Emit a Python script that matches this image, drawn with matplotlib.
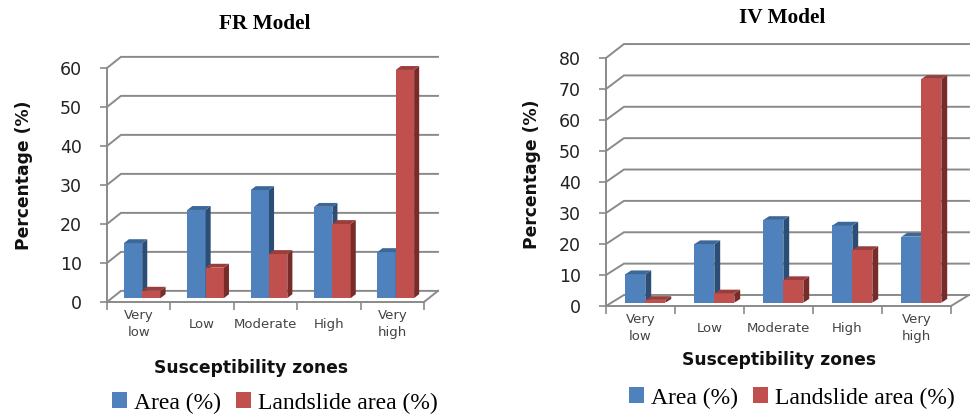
"""
Susceptibility zone charts for the FR and IV models, drawn as oblique 3D columns.
"""
import numpy as np
import matplotlib
matplotlib.use("Agg")
import matplotlib.pyplot as plt
from matplotlib.patches import Patch, Polygon

ZONES = ["Very\nlow", "Low", "Moderate", "High", "Very\nhigh"]
SERIES = ["Area (%)", "Landslide area (%)"]

FR_AREA = [14.1, 22.6, 27.7, 23.4, 11.8]
FR_LANDSLIDE = [1.9, 7.8, 11.3, 19.0, 58.5]
IV_AREA = [9.2, 18.9, 26.7, 24.9, 21.3]
IV_LANDSLIDE = [0.9, 3.0, 7.3, 17.0, 72.2]

FR_TICKS = [0, 10, 20, 30, 40, 50, 60]
IV_TICKS = [0, 10, 20, 30, 40, 50, 60, 70, 80]

W, H = 971, 418
GRID = "#8a8a8a"
BLUE = ("#4f81bd", "#2c4d75", "#3c6799")   # front, side, top
RED = ("#c0504d", "#772c2a", "#9a3e3b")


def fx(px):
    return px / W


def fy(py):
    return 1 - py / H


def draw_column(ax, x, value, width, base, cap, colors):
    # front face goes through ax.bar, the side and top faces are sheared from it
    ax.bar(x, value, width, bottom=base, color=colors[0], align="edge",
           linewidth=0, zorder=3, clip_on=False)
    top = base + value
    side = [(x + width, base), (x + width + cap[0], base + cap[1]),
            (x + width + cap[0], top + cap[1]), (x + width, top)]
    roof = [(x, top), (x + width, top),
            (x + width + cap[0], top + cap[1]), (x + cap[0], top + cap[1])]
    ax.add_patch(Polygon(side, color=colors[1], lw=0, zorder=3, clip_on=False))
    ax.add_patch(Polygon(roof, color=colors[2], lw=0, zorder=3, clip_on=False))


def draw_panel(box, yticks, area, landslide, wall, shift, base, cap, width):
    left, top, right, bottom = box
    ax = fig.add_axes([fx(left), fy(bottom), fx(right - left), fy(top) - fy(bottom)])
    ax.set_xlim(0, len(ZONES))
    ax.set_ylim(yticks[0], yticks[-1])

    # back wall gridlines and the connectors down to the value axis
    for v in yticks:
        back = v + wall[0] + (wall[1] - wall[0]) * v / yticks[-1]
        ax.plot([0, wall[2], len(ZONES) + wall[2]], [v, back, back], color=GRID,
                lw=1.4, clip_on=False, zorder=1, solid_joinstyle="miter")
    ax.plot([len(ZONES), len(ZONES) + wall[2]], [0, wall[0]], color=GRID, lw=1.4,
            clip_on=False, zorder=1)

    centers = np.arange(len(ZONES)) + 0.5 + shift
    for i, c in enumerate(centers):
        draw_column(ax, c - width, area[i], width, base, cap, BLUE)
        draw_column(ax, c, landslide[i], width, base, cap, RED)

    for name in ("top", "right"):
        ax.spines[name].set_visible(False)
    for name in ("left", "bottom"):
        ax.spines[name].set_color(GRID)
        ax.spines[name].set_linewidth(1.4)

    ax.set_yticks(yticks)
    ax.tick_params(axis="y", length=5, width=1.2, color=GRID, pad=13,
                   labelsize=12.5, labelcolor="#222222")
    ax.set_xticks(np.arange(len(ZONES) + 1))
    ax.set_xticklabels([])
    ax.tick_params(axis="x", which="major", length=6, width=1.2, color=GRID)
    ax.set_xticks(np.arange(len(ZONES)) + 0.5, minor=True)
    ax.set_xticklabels(ZONES, minor=True, linespacing=1.45)
    ax.tick_params(axis="x", which="minor", length=0, pad=16, labelsize=9.5,
                   labelcolor="#444444")
    for label in ax.get_xticklabels(minor=True):
        label.set_verticalalignment("center")
    return ax


def add_legend(ax, anchor):
    handles = [Patch(color=BLUE[0], lw=0), Patch(color=RED[0], lw=0)]
    ax.legend(handles, SERIES, loc="center left", ncol=2, frameon=False,
              bbox_to_anchor=(fx(anchor[0]), fy(anchor[1])),
              bbox_transform=fig.transFigure, borderpad=0, borderaxespad=0,
              handlelength=0.64, handleheight=0.64, handletextpad=0.28,
              columnspacing=0.66,
              prop={"family": "Liberation Serif", "size": 17})


fig = plt.figure(figsize=(W / 100, H / 100), dpi=100, facecolor="white")

ax1 = draw_panel((107, 68, 424, 302), FR_TICKS, FR_AREA, FR_LANDSLIDE,
                 wall=(2.85, 2.85, 0.22), shift=0.055, base=1.0,
                 cap=(0.08, 1.0), width=0.289)
ax2 = draw_panel((606, 58, 951, 306), IV_TICKS, IV_AREA, IV_LANDSLIDE,
                 wall=(3.55, 4.5, 0.26), shift=0.07, base=1.07,
                 cap=(0.085, 1.2), width=0.29)

add_legend(ax1, (112, 403))
add_legend(ax2, (629, 398))

title_font = {"family": "Liberation Serif", "weight": "bold", "size": 15.3}
fig.text(fx(265), fy(24), "FR Model", ha="center", va="center", **title_font)
fig.text(fx(782), fy(18), "IV Model", ha="center", va="center", **title_font)

label_font = {"weight": "bold", "size": 12.3, "color": "#111111"}
fig.text(fx(251), fy(368), "Susceptibility zones", ha="center", va="center", **label_font)
fig.text(fx(779), fy(360), "Susceptibility zones", ha="center", va="center", **label_font)
fig.text(fx(24), fy(175), "Percentage (%)", rotation=90, ha="center", va="center", **label_font)
fig.text(fx(532), fy(174), "Percentage (%)", rotation=90, ha="center", va="center", **label_font)

fig.savefig("out.png", dpi=100)
